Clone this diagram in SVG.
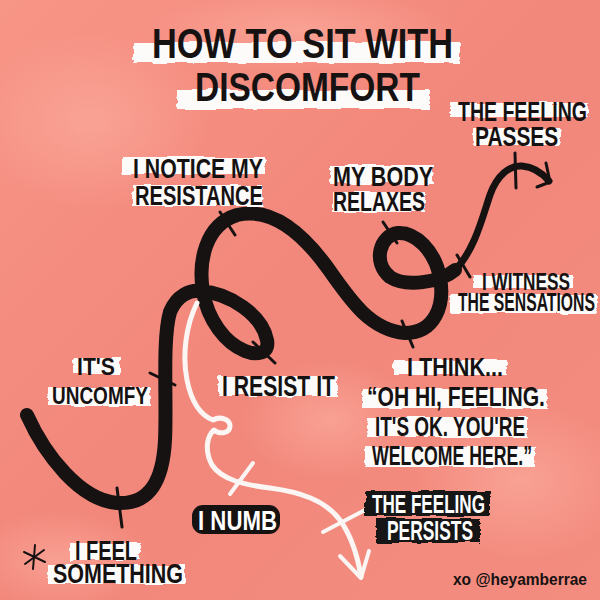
<svg xmlns="http://www.w3.org/2000/svg" width="600" height="600" viewBox="0 0 600 600">
<defs>
<style>
.band{fill:#fdfbfa;filter:url(#rough)}
.blk{fill:#171212;filter:url(#rough)}
.lbl{font-family:"Liberation Sans","DejaVu Sans",sans-serif;font-weight:700;fill:#171212}
.inv{fill:#ffffff}
.curve{fill:none;stroke:#171212;stroke-linecap:round;stroke-linejoin:round}
.tick{fill:none;stroke:#171212;stroke-width:3;stroke-linecap:round;stroke-linejoin:round}
.wcurve{fill:none;stroke:#fbf6f4;stroke-linecap:round;stroke-linejoin:round}
</style>
<linearGradient id="bg" x1="0" y1="0" x2="1" y2="1">
<stop offset="0" stop-color="#f79587"/>
<stop offset="0.5" stop-color="#f2877b"/>
<stop offset="1" stop-color="#f38d80"/>
</linearGradient>
<radialGradient id="blob">
<stop offset="0" stop-color="#fbab9d" stop-opacity="0.7"/>
<stop offset="1" stop-color="#fbab9d" stop-opacity="0"/>
</radialGradient>
<filter id="rough" x="-5%" y="-20%" width="110%" height="140%">
<feTurbulence type="fractalNoise" baseFrequency="0.04 0.25" numOctaves="2" seed="3"/>
<feDisplacementMap in="SourceGraphic" scale="5" xChannelSelector="R" yChannelSelector="G"/>
</filter>
</defs>

<rect width="600" height="600" fill="url(#bg)"/>
<ellipse cx="90" cy="120" rx="120" ry="90" fill="url(#blob)"/>
<ellipse cx="520" cy="480" rx="110" ry="80" fill="url(#blob)"/>
<ellipse cx="330" cy="420" rx="90" ry="60" fill="url(#blob)"/>
<ellipse cx="300" cy="30" rx="160" ry="40" fill="url(#blob)"/>
<ellipse cx="60" cy="560" rx="90" ry="50" fill="url(#blob)"/>

<g id="title">
<rect class="band" x="133" y="42" width="327" height="21"/>
<rect class="band" x="177" y="90" width="253" height="19"/>
<text class="lbl" transform="matrix(0.816 0 0 1 152 58)" font-size="42" textLength="369" lengthAdjust="spacingAndGlyphs">HOW TO SIT WITH</text>
<text class="lbl" transform="matrix(0.815 0 0 1 195 101)" font-size="41" textLength="276" lengthAdjust="spacingAndGlyphs">DISCOMFORT</text>
</g>

<g id="connectors">
<path class="curve" stroke-width="14" d="M 27 415 C 45 455, 80 500, 117 503 C 150 505, 163 480, 165 440 C 167 400, 162 340, 170 312 C 177 295, 190 290, 200 291 C 230 293, 262 315, 267 340 C 270 355, 255 355, 245 351 C 225 343, 208 320, 203 292 C 198 262, 205 225, 237 215 C 270 207, 300 230, 327 267 C 350 300, 370 330, 405 333 C 435 333, 445 305, 440 278 C 435 250, 415 232, 398 233 C 380 235, 372 262, 390 277 C 405 287, 440 283, 455 270"/>
<path class="curve" stroke-width="7" d="M 455 270 C 475 250, 483 215, 490 195 C 497 175, 510 165, 522 166 C 535 167, 543 174, 549 181"/>
<polyline class="tick" stroke-width="4" points="546,163 550,182 537,187"/>
<line class="tick" x1="220" y1="212" x2="235" y2="235"/>
<line class="tick" x1="383" y1="222" x2="397" y2="243"/>
<line class="tick" x1="253" y1="342" x2="275" y2="363"/>
<line class="tick" x1="402" y1="321" x2="413" y2="347"/>
<line class="tick" x1="457" y1="255" x2="470" y2="277"/>
<line class="tick" x1="515" y1="153" x2="516" y2="188"/>
<line class="tick" x1="150" y1="373" x2="175" y2="385"/>
<line class="tick" x1="117" y1="488" x2="122" y2="527"/>
<path class="wcurve" stroke-width="5" d="M 197 303 C 186 325, 182 355, 187 380 C 191 400, 200 415, 213 420 C 220 416, 230 419, 230 426 C 230 433, 220 435, 214 430 C 206 437, 205 452, 212 465 C 222 480, 245 485, 270 488 C 300 492, 325 500, 340 520 C 352 537, 358 558, 361 577"/>
<polyline class="wcurve" stroke-width="4" points="340,556 361,578 369,551"/>
<line class="wcurve" stroke-width="4" x1="230" y1="494" x2="253" y2="463"/>
<line class="wcurve" stroke-width="4" x1="323" y1="532" x2="365" y2="510"/>
</g>

<g id="n-passes">
<rect class="band" x="450" y="103" width="138" height="14"/>
<rect class="band" x="473" y="129" width="87" height="16"/>
<text class="lbl" transform="matrix(0.72 0 0 1 458 121)" font-size="27" textLength="179" lengthAdjust="spacingAndGlyphs">THE FEELING</text>
<text class="lbl" transform="matrix(0.73 0 0 1 475 146)" font-size="28" textLength="114" lengthAdjust="spacingAndGlyphs">PASSES</text>
</g>

<g id="n-notice">
<rect class="band" x="122" y="157" width="143" height="17"/>
<rect class="band" x="133" y="185" width="130" height="21"/>
<text class="lbl" transform="matrix(0.788 0 0 1 133 178)" font-size="27" textLength="165" lengthAdjust="spacingAndGlyphs">I NOTICE MY</text>
<text class="lbl" transform="matrix(0.711 0 0 1 135 205)" font-size="28" textLength="180" lengthAdjust="spacingAndGlyphs">RESISTANCE</text>
</g>

<g id="n-relaxes">
<rect class="band" x="330" y="165" width="103" height="19"/>
<rect class="band" x="332" y="192" width="93" height="20"/>
<text class="lbl" transform="matrix(0.794 0 0 1 333 186)" font-size="27" textLength="126" lengthAdjust="spacingAndGlyphs">MY BODY</text>
<text class="lbl" transform="matrix(0.697 0 0 1 333 211)" font-size="28" textLength="132" lengthAdjust="spacingAndGlyphs">RELAXES</text>
</g>

<g id="n-witness">
<rect class="band" x="473" y="275" width="100" height="13"/>
<rect class="band" x="450" y="294" width="147" height="19"/>
<text class="lbl" transform="matrix(0.715 0 0 1 482 290)" font-size="24" textLength="123" lengthAdjust="spacingAndGlyphs">I WITNESS</text>
<text class="lbl" transform="matrix(0.625 0 0 1 458 311)" font-size="25" textLength="219" lengthAdjust="spacingAndGlyphs">THE SENSATIONS</text>
</g>

<g id="n-uncomfy">
<rect class="band" x="73" y="358" width="47" height="16"/>
<rect class="band" x="48" y="387" width="102" height="19"/>
<text class="lbl" transform="matrix(0.927 0 0 1 77 375)" font-size="23" textLength="41" lengthAdjust="spacingAndGlyphs">IT'S</text>
<text class="lbl" transform="matrix(0.793 0 0 1 52 404)" font-size="24" textLength="121" lengthAdjust="spacingAndGlyphs">UNCOMFY</text>
</g>

<g id="n-resist">
<rect class="band" x="218" y="376" width="119" height="20"/>
<text class="lbl" transform="matrix(0.729 0 0 1 222 396)" font-size="29" textLength="155" lengthAdjust="spacingAndGlyphs">I RESIST IT</text>
</g>

<g id="n-think">
<rect class="band" x="393" y="360" width="114" height="15"/>
<rect class="band" x="362" y="389" width="185" height="19"/>
<rect class="band" x="367" y="417" width="160" height="20"/>
<rect class="band" x="365" y="447" width="170" height="20"/>
<text class="lbl" transform="matrix(0.828 0 0 1 407 376)" font-size="26" textLength="116" lengthAdjust="spacingAndGlyphs">I THINK...</text>
<text class="lbl" transform="matrix(0.754 0 0 1 367 406)" font-size="28" textLength="236" lengthAdjust="spacingAndGlyphs">“OH HI, FEELING.</text>
<text class="lbl" transform="matrix(0.676 0 0 1 375 436)" font-size="28" textLength="222" lengthAdjust="spacingAndGlyphs">IT'S OK. YOU'RE</text>
<text class="lbl" transform="matrix(0.63 0 0 1 372 465)" font-size="28" textLength="254" lengthAdjust="spacingAndGlyphs">WELCOME HERE.”</text>
</g>

<g id="n-persists">
<rect class="blk" x="365" y="491" width="125" height="25"/>
<rect class="blk" x="376" y="518" width="104" height="25"/>
<text class="lbl inv" transform="matrix(0.657 0 0 1 372 513)" font-size="26" textLength="172" lengthAdjust="spacingAndGlyphs">THE FEELING</text>
<text class="lbl inv" transform="matrix(0.642 0 0 1 387 540)" font-size="27" textLength="134" lengthAdjust="spacingAndGlyphs">PERSISTS</text>
</g>

<g id="n-numb">
<rect x="192" y="505" width="88" height="29" rx="11" fill="#171212"/>
<text class="lbl inv" transform="matrix(0.79 0 0 1 198 530)" font-size="28" textLength="100" lengthAdjust="spacingAndGlyphs">I NUMB</text>
</g>

<g id="n-feel">
<rect class="band" x="70" y="543" width="70" height="17"/>
<rect class="band" x="48" y="565" width="137" height="19"/>
<text class="lbl" transform="matrix(0.713 0 0 1 75 560)" font-size="28" textLength="87" lengthAdjust="spacingAndGlyphs">I FEEL</text>
<text class="lbl" transform="matrix(0.765 0 0 1 53 583)" font-size="28" textLength="170" lengthAdjust="spacingAndGlyphs">SOMETHING</text>
</g>

<g id="asterisk" stroke="#171212" stroke-width="2" stroke-linecap="round">
<line x1="35" y1="545" x2="33" y2="569"/>
<line x1="24" y1="552" x2="45" y2="562"/>
<line x1="25" y1="564" x2="44" y2="550"/>
</g>

<g id="credit">
<text class="lbl" x="453" y="585" font-size="16" font-weight="400" textLength="134" lengthAdjust="spacingAndGlyphs">xo @heyamberrae</text>
</g>
</svg>
